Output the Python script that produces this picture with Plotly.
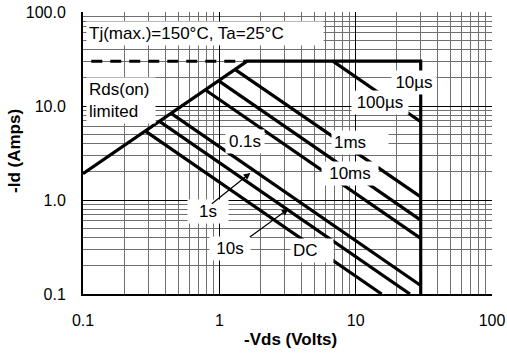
import math
import plotly.graph_objects as go

# Safe operating area envelope: Rds(on) limit, current limit, voltage limit
env_vds = [0.1, 1.6, 30.0, 30.0]
env_id = [1.9, 30.0, 30.0, 0.1]

# Dashed current-limit extension left of the Rds(on) line
dash_vds = [0.115, 1.6]
dash_id = [30.0, 30.0]

# Pulse-width limited boundaries (start point -> end point)
pulse_names = ["100µs", "1ms", "10ms", "0.1s", "1s", "10s", "DC"]
start_vds = [6.8, 1.3, 0.985, 0.787, 0.443, 0.364, 0.287]
start_id = [30.0, 24.5, 18.6, 14.9, 8.36, 6.87, 5.4]
end_vds = [30.0, 30.0, 30.0, 30.0, 30.0, 25.0, 15.5]
end_id = [6.8, 1.08, 0.61, 0.39, 0.123, 0.1, 0.1]

x_ticks = [0.1, 1, 10, 100]
x_ticktext = ["0.1", "1", "10", "100"]
y_ticks = [0.1, 1, 10, 100]
y_ticktext = ["0.1", "1.0", "10.0", "100.0"]

FONT = "Arial, Liberation Sans, sans-serif"
LW = 3.2

fig = go.Figure()

fig.add_trace(go.Scatter(x=dash_vds, y=dash_id, mode="lines",
                         line=dict(color="black", width=3, dash="11px,8px"),
                         hoverinfo="skip"))
fig.add_trace(go.Scatter(x=env_vds, y=env_id, mode="lines",
                         line=dict(color="black", width=LW), name="10µs"))
for name, x0, y0, x1, y1 in zip(pulse_names, start_vds, start_id, end_vds, end_id):
    fig.add_trace(go.Scatter(x=[x0, x1], y=[y0, y1], mode="lines",
                             line=dict(color="black", width=LW), name=name))


def px_x(px):
    # pixel column -> log10(Vds) on the log axis
    return (px - 219) / 136.3


def px_y(py):
    # pixel row -> log10(Id) on the log axis
    return (200 - py) / 94.0


annotations = []


def label(text, cx, cy, width=None, xanchor="center", align="center"):
    a = dict(text=text, x=px_x(cx), y=px_y(cy), xref="x", yref="y",
             showarrow=False, bgcolor="white", borderpad=2,
             font=dict(family=FONT, size=17, color="black"),
             xanchor=xanchor, yanchor="middle", align=align)
    if width:
        a["width"] = width
    annotations.append(a)


label("Tj(max.)=150°C, Ta=25°C", 86, 33, width=232, xanchor="left", align="left")
label("Rds(on)<br>limited", 86, 100, width=64, xanchor="left", align="left")
label("10µs", 414, 82, width=40)
label("100µs", 380, 102, width=52)
label("0.1s", 245, 141, width=34)
label("1ms", 360, 142, width=52, align="left")
label("10ms", 350, 173, width=52)
label("1s", 208, 211, width=36)
label("10s", 230, 248, width=36)
label("DC", 312, 250, width=38, align="left")

# arrows from the 1s / 10s labels to their boundary lines
for (tx, ty), (hx, hy) in [((210, 205), (250, 173)), ((248, 238), (288, 209))]:
    annotations.append(dict(text="", x=px_x(hx), y=px_y(hy), ax=px_x(tx), ay=px_y(ty),
                            xref="x", yref="y", axref="x", ayref="y",
                            showarrow=True, arrowhead=2, arrowsize=1.1,
                            arrowwidth=1.2, arrowcolor="black", standoff=0))

# axis titles
annotations.append(dict(text="<b>-Vds (Volts)</b>", x=(290 - 83) / 409, y=(294 - 339) / 282,
                        xref="paper", yref="paper", showarrow=False,
                        font=dict(family=FONT, size=17, color="black"),
                        xanchor="center", yanchor="middle"))
annotations.append(dict(text="<b>-Id (Amps)</b>", x=(14 - 83) / 409, y=(294 - 151) / 282,
                        xref="paper", yref="paper", showarrow=False, textangle=-90,
                        font=dict(family=FONT, size=17, color="black"),
                        xanchor="center", yanchor="middle"))

axis_common = dict(type="log", range=[-1, 2], showgrid=True, gridcolor="black", gridwidth=1,
                   minor=dict(dtick="D1", showgrid=True, gridcolor="#707070", gridwidth=1, ticks=""),
                   showline=True, linecolor="black", linewidth=2, mirror=False,
                   ticks="", zeroline=False, automargin=False,
                   tickfont=dict(family=FONT, size=16, color="black"))

fig.update_xaxes(**axis_common, tickvals=x_ticks, ticktext=x_ticktext, ticklabelstandoff=11)
fig.update_yaxes(**axis_common, tickvals=y_ticks, ticktext=y_ticktext, ticklabelstandoff=12)

fig.update_layout(width=507, height=357, margin=dict(l=83, r=15, t=12, b=63, autoexpand=False),
                  paper_bgcolor="white", plot_bgcolor="white", showlegend=False,
                  annotations=annotations)

fig.write_html("out.html")
